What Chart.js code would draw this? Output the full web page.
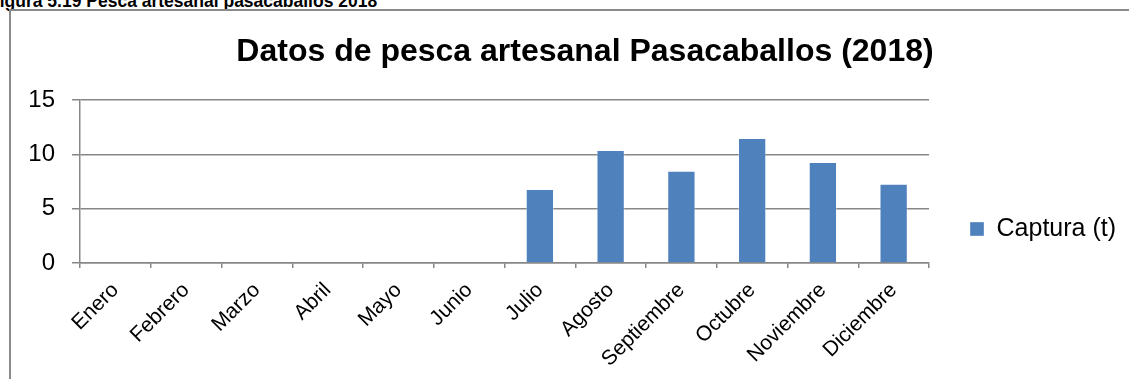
<!DOCTYPE html>
<html lang="es">
<head>
<meta charset="utf-8">
<title>Pesca artesanal Pasacaballos 2018</title>
<script src="https://cdn.jsdelivr.net/npm/chart.js@4.4.1/dist/chart.umd.min.js"></script>
<style>
    html, body {
        margin: 0;
        padding: 0;
        background: #fff;
        overflow: hidden;
    }
    .page {
        position: relative;
        width: 1129px;
        height: 379px;
        overflow: hidden;
    }
    .caption {
        position: absolute;
        left: -11px;
        top: -8px;
        font: bold 17.5px/18px "Liberation Sans", Arial, sans-serif;
        color: #000;
        white-space: nowrap;
    }
    .frame {
        position: absolute;
        left: 9px;
        top: 9px;
        width: 1200px;
        height: 400px;
        border-left: 2px solid #8a8a8a;
        border-top: 2px solid #8a8a8a;
    }
    .chart-box {
        position: absolute;
        left: 0;
        top: 0;
        width: 1129px;
        height: 379px;
    }
</style>
</head>
<body>
<div class="page">
    <div class="caption">Figura 5.19 Pesca artesanal pasacaballos 2018</div>
    <div class="frame"></div>
    <div class="chart-box"><canvas id="pescaChart"></canvas></div>
</div>

<script>
// Capturas mensuales (toneladas); enero a junio sin registro
const meses = ['Enero', 'Febrero', 'Marzo', 'Abril', 'Mayo', 'Junio',
    'Julio', 'Agosto', 'Septiembre', 'Octubre', 'Noviembre', 'Diciembre'];
const captura = [null, null, null, null, null, null, 6.8, 10.4, 8.5, 11.5, 9.3, 7.3];
const yTicks = [0, 5, 10, 15];

const FONT = '"Liberation Sans", Arial, sans-serif';
const AXIS_GREY = '#878787';

// Title and legend boxes both span the whole canvas; nudge them so the
// title centres over the plot and the legend entry sits beside the bars
const boxNudge = {
    id: 'boxNudge',
    afterLayout(chart) {
        if (chart.titleBlock) chart.titleBlock.left += 44;
        if (chart.legend) chart.legend.top += 79;
    }
};

onReady(function() {
    const ctx = document.getElementById('pescaChart').getContext('2d');
    new Chart(ctx, {
        type: 'bar',
        data: {
            labels: meses,
            datasets: [{
                label: 'Captura (t)',
                data: captura,
                backgroundColor: '#4f81bd',
                borderColor: 'rgba(255,255,255,0.35)',
                borderWidth: 1,
                categoryPercentage: 0.8,
                barPercentage: 0.5
            }]
        },
        options: {
            responsive: true,
            maintainAspectRatio: false,
            animation: false,
            layout: { padding: { left: 0, right: 3, top: 0, bottom: 0 } },
            plugins: {
                title: {
                    display: true,
                    text: 'Datos de pesca artesanal Pasacaballos (2018)',
                    color: '#000',
                    font: { family: FONT, size: 32, weight: 'bold', lineHeight: 1.2 },
                    padding: { top: 33, bottom: 28.6 }
                },
                legend: {
                    position: 'right',
                    align: 'center',
                    labels: {
                        color: '#000',
                        font: { family: FONT, size: 25 },
                        boxWidth: 14,
                        boxHeight: 14,
                        padding: 41
                    }
                },
                tooltip: { enabled: false }
            },
            scales: {
                x: {
                    grid: {
                        offset: true,
                        drawOnChartArea: false,
                        tickLength: 5,
                        color: AXIS_GREY,
                        lineWidth: 1.5
                    },
                    border: { display: true, color: AXIS_GREY, width: 1.5 },
                    ticks: {
                        color: '#000',
                        font: { family: FONT, size: 21 },
                        minRotation: 45,
                        maxRotation: 45,
                        autoSkip: false,
                        padding: 10
                    },
                    afterFit(scale) { scale.height = 116; }
                },
                y: {
                    min: 0,
                    max: 15,
                    afterBuildTicks(scale) {
                        scale.ticks = yTicks.map(v => ({ value: v }));
                    },
                    grid: {
                        color: AXIS_GREY,
                        lineWidth: 1.5,
                        tickLength: 8
                    },
                    border: { display: true, color: AXIS_GREY, width: 1.5 },
                    ticks: {
                        color: '#000',
                        font: { family: FONT, size: 24 },
                        padding: 17
                    },
                    afterFit(scale) { scale.width = 80; }
                }
            }
        },
        plugins: [boxNudge]
    });
});

function onReady(callback) {
    if (document.readyState === 'loading') {
        document.addEventListener('DOMContentLoaded', callback);
    } else {
        callback();
    }
}
</script>
</body>
</html>
